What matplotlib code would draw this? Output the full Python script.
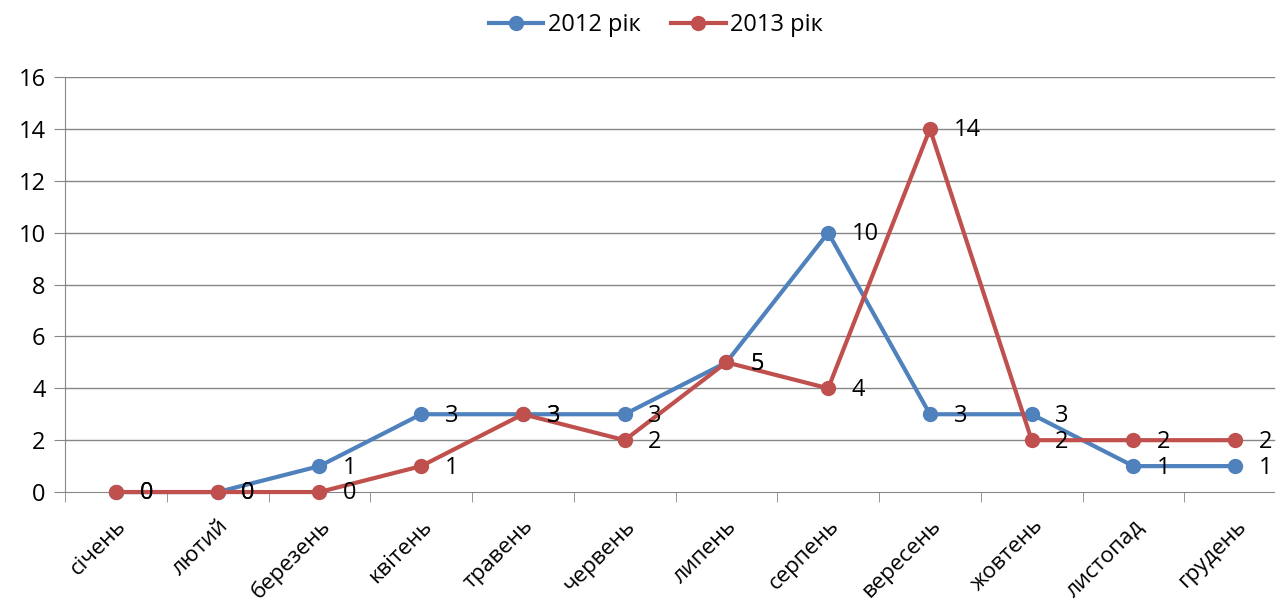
import matplotlib.pyplot as plt
from matplotlib.ticker import FixedLocator

plt.rcParams['font.family'] = ['Open Sans', 'DejaVu Sans']

months = ['січень', 'лютий', 'березень', 'квітень', 'травень', 'червень',
          'липень', 'серпень', 'вересень', 'жовтень', 'листопад', 'грудень']
y2012 = [0, 0, 1, 3, 3, 3, 5, 10, 3, 3, 1, 1]
y2013 = [0, 0, 0, 1, 3, 2, 5, 4, 14, 2, 2, 2]
labels = ['2012 рік', '2013 рік']
colors = ['#4F81BD', '#C0504D']

fig = plt.figure(figsize=(12.83, 6.12), dpi=100)
# plot area runs slightly past the right edge, like the original
ax = fig.add_axes([0.0507, 0.196, 0.9517, 0.678])

x = list(range(len(months)))
for ys, lab, c in zip([y2012, y2013], labels, colors):
    ax.plot(x, ys, color=c, lw=3, marker='o', ms=10, label=lab, zorder=3,
            clip_on=False)
    for xi, yi in zip(x, ys):
        ax.annotate(str(yi), (xi, yi), xytext=(17, -1), textcoords='offset points',
                    va='center', ha='left', fontsize=17, color='black', zorder=4)

ax.set_xlim(-0.5, 11.5)
ax.set_ylim(0, 16)
ax.set_yticks(range(0, 17, 2))
ax.set_xticks(x)
ax.set_xticklabels(months, rotation=45, ha='right', rotation_mode='anchor', fontsize=16)
ax.xaxis.set_minor_locator(FixedLocator([i + 0.5 for i in range(-1, 12)]))
ax.tick_params(axis='x', which='major', length=0, pad=17)
ax.tick_params(axis='x', which='minor', length=7, color='#868686')
ax.tick_params(axis='y', length=8, color='#868686', labelsize=17, pad=6)

for yv in range(2, 17, 2):
    ax.axhline(yv, xmax=0.99, color='#868686', lw=1, zorder=1)
ax.spines['bottom'].set_bounds(-0.5, 11.38)
for s in ['top', 'right']:
    ax.spines[s].set_visible(False)
for s in ['left', 'bottom']:
    ax.spines[s].set_color('#868686')

ax.legend(loc='upper center', bbox_to_anchor=(0.484, 1.205), ncol=2, frameon=False,
          fontsize=17, handlelength=2.3, columnspacing=1.3, handletextpad=0.2)

fig.savefig('out.png', dpi=100)
